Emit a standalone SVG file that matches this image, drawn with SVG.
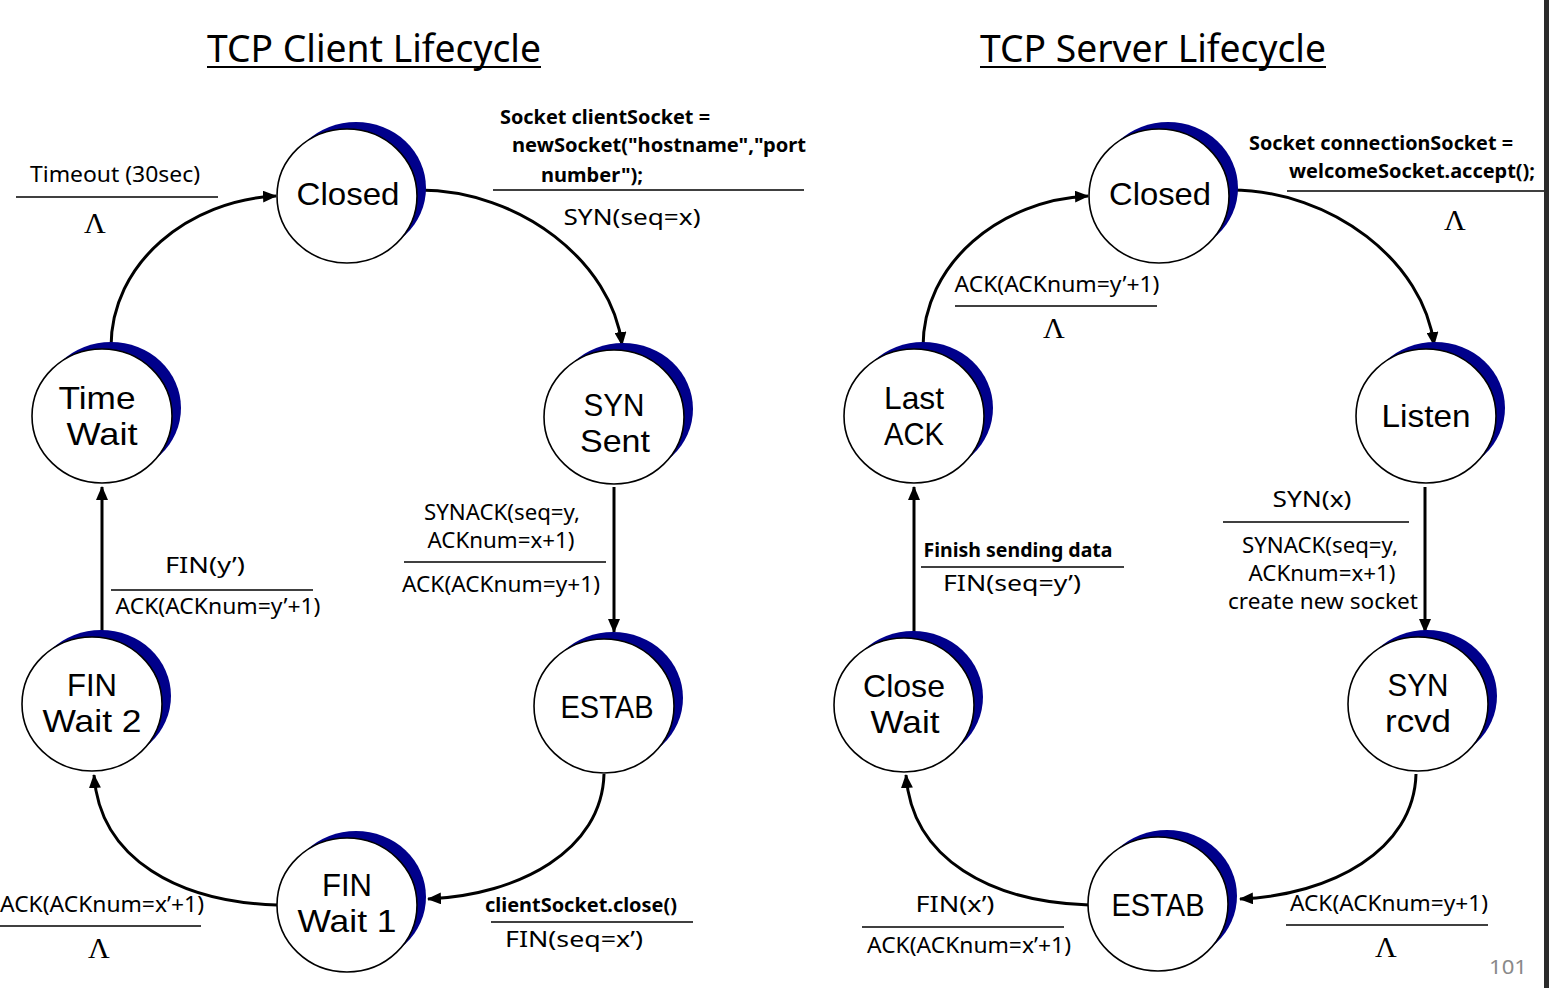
<svg xmlns="http://www.w3.org/2000/svg" width="1549" height="988" viewBox="0 0 1549 988">
<style>
.bg{fill:#ffffff}
.shade{fill:#00008b}
.ring{fill:#ffffff;stroke:#000;stroke-width:1.6}
.nt{font-family:"Liberation Sans",Arial,sans-serif;font-size:31.5px;fill:#000;text-anchor:middle}
.t{font-family:"Noto Sans","Open Sans",sans-serif;font-size:21px;fill:#000;text-anchor:middle}
.tb{font-family:"Noto Sans","Open Sans",sans-serif;font-size:20px;font-weight:bold;fill:#000}
.lam{font-family:"Liberation Serif",serif;font-size:30px;fill:#000;text-anchor:middle}
.ttl{font-family:"Noto Sans","Open Sans",sans-serif;font-size:38px;fill:#000;text-anchor:middle}
.rule{stroke:#000;stroke-width:1.6}
.edge{fill:none;stroke:#000;stroke-width:3}
</style>
<defs>
<marker id="ah" markerUnits="userSpaceOnUse" markerWidth="14" markerHeight="12" refX="13" refY="6" orient="auto">
<path d="M0,0 L14,6 L0,12 Z" fill="#000"/>
</marker>
</defs>
<rect class="bg" x="0" y="0" width="1549" height="988"/>
<rect x="1544" y="0" width="5" height="988" fill="#2b2b2b"/>

<g id="titles">
<text class="ttl" x="374" y="62" textLength="334" lengthAdjust="spacingAndGlyphs">TCP Client Lifecycle</text>
<line x1="207" y1="67" x2="541" y2="67" stroke="#000" stroke-width="2"/>
<text class="ttl" x="1153" y="62" textLength="346" lengthAdjust="spacingAndGlyphs">TCP Server Lifecycle</text>
<line x1="980" y1="67" x2="1326" y2="67" stroke="#000" stroke-width="2"/>
</g>

<g id="connectors">
<path class="edge" d="M419,190 C520,190 612,262 622,345" marker-end="url(#ah)"/>
<path class="edge" d="M614,487 L614,632" marker-end="url(#ah)"/>
<path class="edge" d="M604,774 C602,850 520,895 428,899" marker-end="url(#ah)"/>
<path class="edge" d="M277,905 C180,902 100,860 94,775" marker-end="url(#ah)"/>
<path class="edge" d="M102,636 L102,487" marker-end="url(#ah)"/>
<path class="edge" d="M111,349 C110,262 190,200 276,196" marker-end="url(#ah)"/>

<path class="edge" d="M1231,190 C1332,190 1424,262 1434,345" marker-end="url(#ah)"/>
<path class="edge" d="M1425,487 L1425,632" marker-end="url(#ah)"/>
<path class="edge" d="M1416,774 C1414,850 1332,895 1240,899" marker-end="url(#ah)"/>
<path class="edge" d="M1089,905 C992,902 912,860 906,775" marker-end="url(#ah)"/>
<path class="edge" d="M914,636 L914,487" marker-end="url(#ah)"/>
<path class="edge" d="M923,349 C922,262 1002,200 1088,196" marker-end="url(#ah)"/>
</g>

<g id="c-closed">
<ellipse class="shade" cx="356" cy="188" rx="70" ry="66"/>
<ellipse class="ring" cx="347" cy="196" rx="70" ry="67"/>
<text class="nt" x="348" y="205" textLength="103" lengthAdjust="spacingAndGlyphs">Closed</text>
</g>
<g id="c-synsent">
<ellipse class="shade" cx="623" cy="409" rx="70" ry="66"/>
<ellipse class="ring" cx="614" cy="417" rx="70" ry="67"/>
<text class="nt" x="614" y="416" textLength="61" lengthAdjust="spacingAndGlyphs">SYN</text>
<text class="nt" x="615" y="452" textLength="70" lengthAdjust="spacingAndGlyphs">Sent</text>
</g>
<g id="c-estab">
<ellipse class="shade" cx="613" cy="698" rx="70" ry="66"/>
<ellipse class="ring" cx="604" cy="706" rx="70" ry="67"/>
<text class="nt" x="607" y="718" textLength="93" lengthAdjust="spacingAndGlyphs">ESTAB</text>
</g>
<g id="c-finwait1">
<ellipse class="shade" cx="356" cy="897" rx="70" ry="66"/>
<ellipse class="ring" cx="347" cy="905" rx="70" ry="67"/>
<text class="nt" x="347" y="896" textLength="50" lengthAdjust="spacingAndGlyphs">FIN</text>
<text class="nt" x="347" y="932" textLength="99" lengthAdjust="spacingAndGlyphs">Wait 1</text>
</g>
<g id="c-finwait2">
<ellipse class="shade" cx="101" cy="696" rx="70" ry="66"/>
<ellipse class="ring" cx="92" cy="704" rx="70" ry="67"/>
<text class="nt" x="92" y="696" textLength="50" lengthAdjust="spacingAndGlyphs">FIN</text>
<text class="nt" x="92" y="732" textLength="99" lengthAdjust="spacingAndGlyphs">Wait 2</text>
</g>
<g id="c-timewait">
<ellipse class="shade" cx="111" cy="408" rx="70" ry="66"/>
<ellipse class="ring" cx="102" cy="416" rx="70" ry="67"/>
<text class="nt" x="97" y="409" textLength="77" lengthAdjust="spacingAndGlyphs">Time</text>
<text class="nt" x="102" y="445" textLength="71" lengthAdjust="spacingAndGlyphs">Wait</text>
</g>

<g id="s-closed">
<ellipse class="shade" cx="1168" cy="188" rx="70" ry="66"/>
<ellipse class="ring" cx="1159" cy="196" rx="70" ry="67"/>
<text class="nt" x="1160" y="205" textLength="102" lengthAdjust="spacingAndGlyphs">Closed</text>
</g>
<g id="s-listen">
<ellipse class="shade" cx="1435" cy="408" rx="70" ry="66"/>
<ellipse class="ring" cx="1426" cy="416" rx="70" ry="67"/>
<text class="nt" x="1426" y="427" textLength="89" lengthAdjust="spacingAndGlyphs">Listen</text>
</g>
<g id="s-synrcvd">
<ellipse class="shade" cx="1427" cy="696" rx="70" ry="66"/>
<ellipse class="ring" cx="1418" cy="704" rx="70" ry="67"/>
<text class="nt" x="1418" y="696" textLength="61" lengthAdjust="spacingAndGlyphs">SYN</text>
<text class="nt" x="1418" y="732" textLength="66" lengthAdjust="spacingAndGlyphs">rcvd</text>
</g>
<g id="s-estab">
<ellipse class="shade" cx="1167" cy="896" rx="70" ry="66"/>
<ellipse class="ring" cx="1158" cy="904" rx="70" ry="67"/>
<text class="nt" x="1158" y="916" textLength="93" lengthAdjust="spacingAndGlyphs">ESTAB</text>
</g>
<g id="s-closewait">
<ellipse class="shade" cx="913" cy="697" rx="70" ry="66"/>
<ellipse class="ring" cx="904" cy="705" rx="70" ry="67"/>
<text class="nt" x="904" y="697" textLength="82" lengthAdjust="spacingAndGlyphs">Close</text>
<text class="nt" x="905" y="733" textLength="69" lengthAdjust="spacingAndGlyphs">Wait</text>
</g>
<g id="s-lastack">
<ellipse class="shade" cx="923" cy="408" rx="70" ry="66"/>
<ellipse class="ring" cx="914" cy="416" rx="70" ry="67"/>
<text class="nt" x="914" y="409" textLength="60" lengthAdjust="spacingAndGlyphs">Last</text>
<text class="nt" x="914" y="445" textLength="60" lengthAdjust="spacingAndGlyphs">ACK</text>
</g>

<g id="labels">
<text class="t" x="115" y="182" textLength="170" lengthAdjust="spacingAndGlyphs">Timeout (30sec)</text>
<line class="rule" x1="16" y1="197" x2="218" y2="197"/>
<text class="lam" x="95" y="233">Λ</text>

<text class="tb" x="500" y="124" textLength="210" lengthAdjust="spacingAndGlyphs">Socket clientSocket =</text>
<text class="tb" x="512" y="152" textLength="294" lengthAdjust="spacingAndGlyphs">newSocket("hostname","port</text>
<text class="tb" x="541" y="182" textLength="102" lengthAdjust="spacingAndGlyphs">number");</text>
<line class="rule" x1="493" y1="190" x2="804" y2="190"/>
<text class="t" x="632" y="225" textLength="137" lengthAdjust="spacingAndGlyphs">SYN(seq=x)</text>

<text class="t" x="502" y="520" textLength="156" lengthAdjust="spacingAndGlyphs">SYNACK(seq=y,</text>
<text class="t" x="501" y="548" textLength="147" lengthAdjust="spacingAndGlyphs">ACKnum=x+1)</text>
<line class="rule" x1="404" y1="562" x2="606" y2="562"/>
<text class="t" x="501" y="592" textLength="198" lengthAdjust="spacingAndGlyphs">ACK(ACKnum=y+1)</text>

<text class="t" x="205" y="573" textLength="80" lengthAdjust="spacingAndGlyphs">FIN(y’)</text>
<line class="rule" x1="111" y1="590" x2="313" y2="590"/>
<text class="t" x="218" y="614" textLength="205" lengthAdjust="spacingAndGlyphs">ACK(ACKnum=y’+1)</text>

<text class="t" x="102" y="912" textLength="204" lengthAdjust="spacingAndGlyphs">ACK(ACKnum=x’+1)</text>
<line class="rule" x1="0" y1="926" x2="201" y2="926"/>
<text class="lam" x="99" y="958">Λ</text>

<text class="tb" x="581" y="912" text-anchor="middle" textLength="192" lengthAdjust="spacingAndGlyphs">clientSocket.close()</text>
<line class="rule" x1="491" y1="922" x2="693" y2="922"/>
<text class="t" x="574" y="947" textLength="138" lengthAdjust="spacingAndGlyphs">FIN(seq=x’)</text>

<text class="tb" x="1249" y="150" textLength="264" lengthAdjust="spacingAndGlyphs">Socket connectionSocket =</text>
<text class="tb" x="1289" y="178" textLength="246" lengthAdjust="spacingAndGlyphs">welcomeSocket.accept();</text>
<line class="rule" x1="1287" y1="191" x2="1544" y2="191"/>
<text class="lam" x="1455" y="230">Λ</text>

<text class="t" x="1057" y="292" textLength="205" lengthAdjust="spacingAndGlyphs">ACK(ACKnum=y’+1)</text>
<line class="rule" x1="955" y1="306" x2="1157" y2="306"/>
<text class="lam" x="1054" y="338">Λ</text>

<text class="t" x="1312" y="507" textLength="79" lengthAdjust="spacingAndGlyphs">SYN(x)</text>
<line class="rule" x1="1223" y1="522" x2="1409" y2="522"/>
<text class="t" x="1320" y="553" textLength="156" lengthAdjust="spacingAndGlyphs">SYNACK(seq=y,</text>
<text class="t" x="1322" y="581" textLength="147" lengthAdjust="spacingAndGlyphs">ACKnum=x+1)</text>
<text class="t" x="1323" y="609" textLength="190" lengthAdjust="spacingAndGlyphs">create new socket</text>

<text class="tb" x="1018" y="557" text-anchor="middle" textLength="189" lengthAdjust="spacingAndGlyphs">Finish sending data</text>
<line class="rule" x1="921" y1="567" x2="1124" y2="567"/>
<text class="t" x="1012" y="591" textLength="138" lengthAdjust="spacingAndGlyphs">FIN(seq=y’)</text>

<text class="t" x="955" y="912" textLength="79" lengthAdjust="spacingAndGlyphs">FIN(x’)</text>
<line class="rule" x1="862" y1="927" x2="1064" y2="927"/>
<text class="t" x="969" y="953" textLength="204" lengthAdjust="spacingAndGlyphs">ACK(ACKnum=x’+1)</text>

<text class="t" x="1389" y="911" textLength="198" lengthAdjust="spacingAndGlyphs">ACK(ACKnum=y+1)</text>
<line class="rule" x1="1286" y1="925" x2="1488" y2="925"/>
<text class="lam" x="1386" y="957">Λ</text>

<text x="1508" y="974" font-family="Noto Sans, Open Sans, sans-serif" font-size="20" fill="#898989" text-anchor="middle" textLength="38" lengthAdjust="spacingAndGlyphs">101</text>
</g>
</svg>
